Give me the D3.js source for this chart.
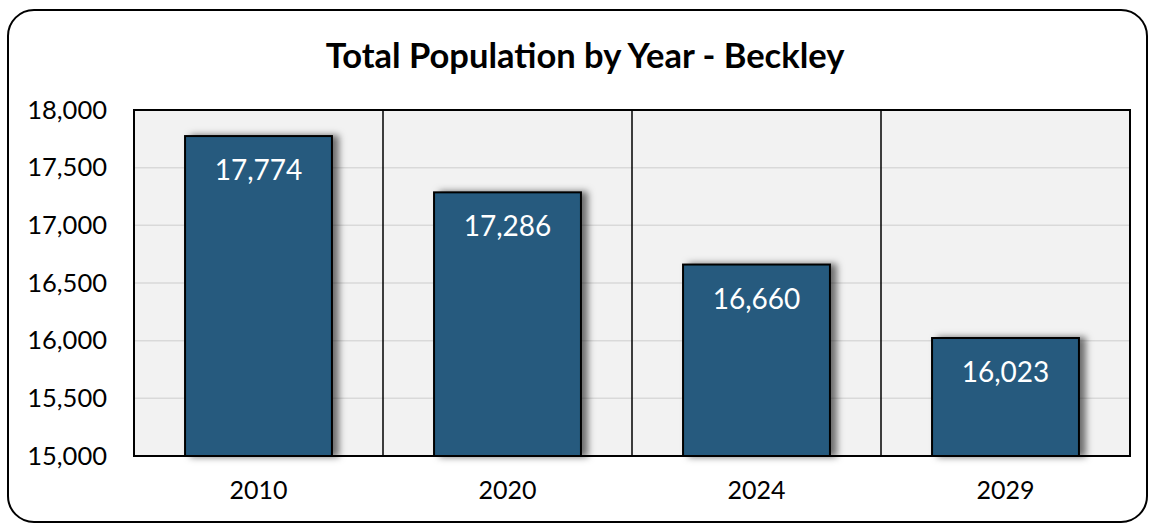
<!DOCTYPE html>
<html><head><meta charset="utf-8">
<script src="https://cdn.jsdelivr.net/npm/d3@7"></script>
<style>body{margin:0;background:#fff;} svg{display:block;}</style>
</head><body>
<script>
const categories = ["2010","2020","2024","2029"];
const values = [17774, 17286, 16660, 16023];
const yTicks = [15000,15500,16000,16500,17000,17500,18000];
const title = "Total Population by Year - Beckley";

const W = 1155, H = 523;
const font = "Lato, 'Open Sans', sans-serif";
const svg = d3.select("body").append("svg").attr("width", W).attr("height", H);

const defs = svg.append("defs");
const f = defs.append("filter").attr("id","sh").attr("x","-20%").attr("y","-20%").attr("width","150%").attr("height","140%");
f.append("feDropShadow").attr("dx",6).attr("dy",0).attr("stdDeviation",3.5).attr("flood-color","#000").attr("flood-opacity",0.55);

svg.append("rect").attr("x",8).attr("y",10).attr("width",1139).attr("height",512).attr("rx",26)
  .attr("fill","#fff").attr("stroke","#000").attr("stroke-width",2);

svg.append("text").attr("x",585).attr("y",68).attr("text-anchor","middle")
  .attr("font-family",font).attr("font-weight","bold").attr("font-size",34.5).text(title);

const m = {l:134, r:1130, t:110, b:456};
const x = d3.scaleBand().domain(categories).range([m.l, m.r]).paddingInner(0).paddingOuter(0);
const y = d3.scaleLinear().domain([15000,18000]).range([m.b, m.t]);

svg.append("rect").attr("x",m.l).attr("y",m.t).attr("width",m.r-m.l).attr("height",m.b-m.t).attr("fill","#f2f2f2");

svg.append("g").selectAll("line").data(yTicks).join("line")
  .attr("x1",m.l).attr("x2",m.r).attr("y1",d=>y(d)).attr("y2",d=>y(d))
  .attr("stroke","#d9d9d9").attr("stroke-width",1.5);

svg.append("g").selectAll("line").data(categories.slice(1)).join("line")
  .attr("x1",d=>x(d)).attr("x2",d=>x(d)).attr("y1",m.t).attr("y2",m.b)
  .attr("stroke","#000").attr("stroke-width",1.5);

const bw = x.bandwidth()*0.59;
svg.append("g").selectAll("rect").data(values).join("rect")
  .attr("x",(d,i)=>x(categories[i])+x.bandwidth()/2-bw/2)
  .attr("y",d=>y(d)).attr("width",bw).attr("height",d=>m.b-y(d))
  .attr("fill","#265a7e").attr("stroke","#000").attr("stroke-width",2).attr("filter","url(#sh)");

svg.append("g").selectAll("text").data(values).join("text")
  .attr("x",(d,i)=>x(categories[i])+x.bandwidth()/2)
  .attr("y",d=>y(d)+44).attr("text-anchor","middle")
  .attr("font-family",font).attr("font-size",28).attr("fill","#fff")
  .text(d=>d3.format(",")(d));

svg.append("rect").attr("x",m.l).attr("y",m.t).attr("width",m.r-m.l).attr("height",m.b-m.t)
  .attr("fill","none").attr("stroke","#000").attr("stroke-width",2);

const ya = svg.append("g").attr("transform",`translate(${m.l},0)`)
  .call(d3.axisLeft(y).tickValues(yTicks).tickFormat(d3.format(",")).tickSize(0).tickPadding(27));
ya.select(".domain").remove();
ya.selectAll("text").attr("font-family",font).attr("font-size",25.5).attr("fill","#000");

const xa = svg.append("g").attr("transform",`translate(0,${m.b})`)
  .call(d3.axisBottom(x).tickSize(0).tickPadding(25));
xa.select(".domain").remove();
xa.selectAll("text").attr("font-family",font).attr("font-size",25).attr("fill","#000");
</script>
</body></html>
